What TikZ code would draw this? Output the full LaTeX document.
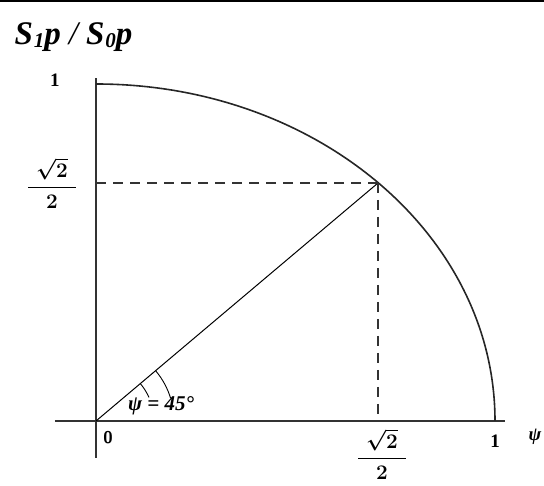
\documentclass[tikz,border=0pt]{standalone}
\usepackage{fontspec}
\setmainfont{Liberation Serif}
\usepackage{amsmath}
\usetikzlibrary{positioning,calc}

\begin{document}
\begin{tikzpicture}[
  x=1pt, y=1pt,
  font=\bfseries,
  axis/.style={line width=1.8pt, draw=black!80},
  curve/.style={line width=1.6pt, draw=black!85},
  guide/.style={line width=1.3pt, draw=black!80, dash pattern=on 10pt off 7pt},
  lbl/.style={inner sep=1pt, font=\fontsize{19}{22}\selectfont\bfseries},
  frac/.style={inner sep=0pt, font=\fontsize{22}{25}\selectfont\boldmath}
]
\useasboundingbox (-96,-65) rectangle (448,421);
\fill[black] (-96,418.5) rectangle (448,421);
% points
\coordinate (O) at (0,0);
\coordinate (X1) at (399,0);
\coordinate (Y1) at (0,337);
\coordinate (P) at (282,238);
\coordinate (xl) at (-41,0);
\coordinate (xr) at (409,0);
\coordinate (yt) at (0,343);
\coordinate (yb) at (0,-37);
% axes
\draw[axis] (xl) -- (xr);
\draw[axis] (yb) -- (yt);
% quarter ellipse
\draw[curve] (Y1) arc[start angle=90, end angle=0, x radius=399, y radius=337];
% radius and guides
\draw[line width=1pt] (O) -- (P);
\draw[guide] (P) -- (P |- O);
\draw[guide] (P) -- (P -| O);
\draw[line width=0.9pt] ($(O)+(40.2:58)$) arc[start angle=40.2, end angle=24, radius=58];
\draw[line width=0.9pt] ($(O)+(40.2:78)$) arc[start angle=40.2, end angle=17, radius=78];
% labels
\node[anchor=west, font=\fontsize{33}{36}\selectfont\bfseries\itshape] (title) at (-85,384)
  {S\kern1pt{\fontsize{21}{23}\selectfont\raisebox{-3pt}{1}}p\kern8pt{\mdseries/}\kern8pt S\kern1pt{\fontsize{21}{23}\selectfont\raisebox{-3pt}{0}}p};
\node[lbl] (ytop) at (-41,341) {1};
\node[frac] (yfrac) at (-44,238) {$\dfrac{\hspace{8pt}\sqrt{2}\hspace{8pt}}{2}$};
\node[lbl, font=\fontsize{17}{19}\selectfont\sffamily\bfseries] (zero) at (12,-17) {0};
\node[lbl] (xone) at (399,-20) {1};
\node[frac] (xfrac) at (286,-33) {$\dfrac{\hspace{8pt}\sqrt{2}\hspace{8pt}}{2}$};
\node[lbl, font=\fontsize{19}{21}\selectfont\bfseries\itshape] (psi) at (439,-16) {ψ};
\node[lbl, font=\fontsize{21}{23}\selectfont\bfseries\itshape] (angle) at (65,15) {ψ = 45°};
\end{tikzpicture}
\end{document}
